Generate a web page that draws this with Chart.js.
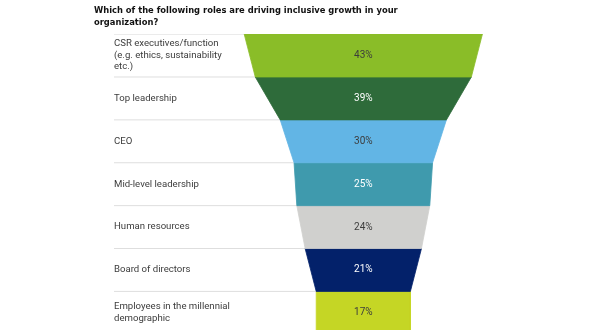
<!DOCTYPE html>
<html lang="en">
<head>
<meta charset="UTF-8">
<title>Roles driving inclusive growth</title>
<script src="https://cdn.jsdelivr.net/npm/chart.js"></script>
<style>
  html, body { margin: 0; padding: 0; background: #fff; }
  #wrap { width: 596px; height: 335px; }
</style>
</head>
<body>
<div id="wrap"><canvas id="funnelChart"></canvas></div>
<script>
const roles = [
  ['CSR executives/function', '(e.g. ethics, sustainability', 'etc.)'],
  'Top leadership',
  'CEO',
  'Mid-level leadership',
  'Human resources',
  'Board of directors',
  ['Employees in the millennial', 'demographic']
];
const shares = [43, 39, 30, 25, 24, 21, 17];
const bandColors = ['#8abd28', '#2e6b3a', '#62b5e5', '#3f9aad', '#d0d0ce', '#03216a', '#c5d625'];
const valueColors = ['#3c3c3c', '#ffffff', '#3c3c3c', '#ffffff', '#3c3c3c', '#ffffff', '#3c3c3c'];
const titleLines = ['Which of the following roles are driving inclusive growth in your', 'organization?'];

const X_MIN = -45, X_MAX = 42;

// one closed shape per band: top edge is this share, bottom edge the next one
const bands = shares.map((v, i) => {
    const next = i < shares.length - 1 ? shares[i + 1] : v;
    return {
        data: [
            {x: -v / 2, y: i}, {x: v / 2, y: i},
            {x: next / 2, y: i + 1}, {x: -next / 2, y: i + 1},
            {x: -v / 2, y: i}
        ],
        backgroundColor: bandColors[i],
        borderColor: bandColors[i],
        borderWidth: 0.8,
        showLine: true,
        fill: 'shape',
        pointRadius: 0,
        tension: 0
    };
});

// light rules between the rows, from the labels in to the funnel
const rules = shares.map((v, i) => ({
    data: [{x: X_MIN, y: i}, {x: i === 0 ? v / 2 : 0, y: i}],
    borderColor: '#dedede',
    borderWidth: 1,
    showLine: true,
    fill: false,
    pointRadius: 0
}));

const valueLabels = {
    id: 'valueLabels',
    afterDatasetsDraw(chart) {
        const {ctx, scales: {x, y}} = chart;
        ctx.save();
        ctx.font = '10px Roboto';
        ctx.textAlign = 'center';
        ctx.textBaseline = 'middle';
        shares.forEach((v, i) => {
            ctx.fillStyle = valueColors[i];
            ctx.fillText(v + '%', x.getPixelForValue(0), y.getPixelForValue(i + 0.5));
        });
        ctx.restore();
    }
};

new Chart(document.getElementById('funnelChart'), {
    type: 'scatter',
    data: { datasets: bands.concat(rules) },
    options: {
        responsive: true,
        maintainAspectRatio: false,
        animation: false,
        events: [],
        layout: { padding: { left: 94, right: 0, top: 0, bottom: 5 } },
        plugins: {
            legend: { display: false },
            tooltip: { enabled: false },
            title: {
                display: true,
                text: titleLines,
                align: 'start',
                color: '#111',
                font: { family: 'DejaVu Sans Condensed, DejaVu Sans', size: 9.3, weight: 'bold', lineHeight: 1.35 },
                padding: { top: 4, bottom: 5 }
            }
        },
        scales: {
            x: { type: 'linear', min: X_MIN, max: X_MAX, display: false },
            y: {
                type: 'linear',
                reverse: true,
                min: 0,
                max: 6.9,
                grid: { display: false },
                border: { display: false },
                afterBuildTicks: (scale) => {
                    scale.ticks = roles.map((r, i) => ({ value: i + 0.5 }));
                },
                // labels sit inside the plot, so keep the axis thin and flush
                afterFit: (scale) => {
                    scale.width = 20;
                    scale.paddingTop = 0;
                    scale.paddingBottom = 0;
                },
                ticks: {
                    mirror: true,
                    padding: 0,
                    crossAlign: 'near',
                    color: '#3c3c3c',
                    font: { family: 'Roboto', size: 9.6, lineHeight: 1.2 },
                    callback: (value) => roles[Math.floor(value)]
                }
            }
        }
    },
    plugins: [valueLabels]
});
</script>
</body>
</html>
